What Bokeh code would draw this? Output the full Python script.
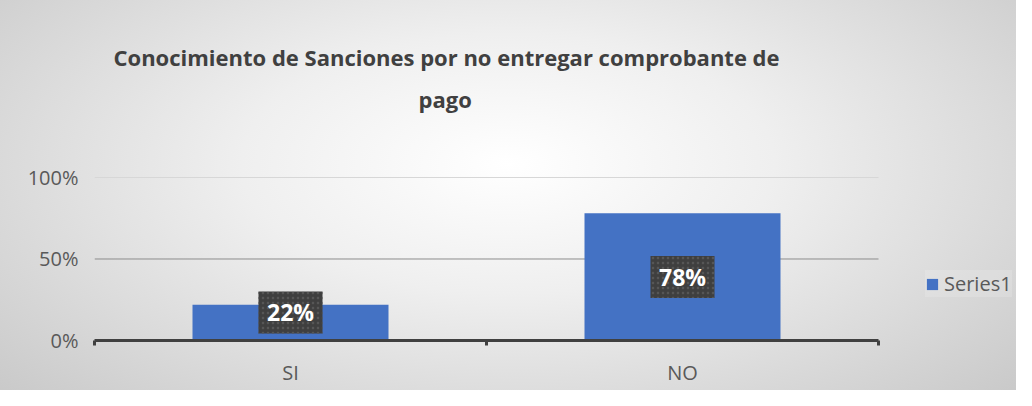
from bokeh.plotting import figure
from bokeh.models import (ColumnDataSource, FixedTicker, Legend, LegendItem,
                          Title, Range1d)
from bokeh.core.properties import value
from bokeh.embed import file_html
from bokeh.resources import INLINE

# ---- data ----
categories = ["SI", "NO"]
values = [0.22, 0.78]
value_labels = ["22%", "78%"]
y_ticks = [0, 0.5, 1.0]
y_tick_labels = ["0%", "50%", "100%"]
series_name = "Series1"
title_lines = ["Conocimiento de Sanciones por no entregar comprobante de", "pago"]

FONT = "Open Sans"
W, H = 1016, 390
BL, BR, BT, BB = 94, 4, 176, 50      # borders around the frame (px)
PLOT_W = 784                          # px taken by the category axis
frame_w = W - BL - BR
n = len(categories)
xs = [i + 0.5 for i in range(n)]
boundaries = list(range(n + 1))
label_y = [max(v / 2, 0.172) for v in values]

p = figure(width=W, height=H, output_backend="svg", toolbar_location=None,
           x_range=Range1d(0, n * frame_w / PLOT_W),
           y_range=Range1d(0, y_ticks[-1] * 1.006),
           min_border_left=BL, min_border_right=BR, min_border_top=BT,
           min_border_bottom=BB,
           border_fill_color=None, background_fill_color=None,
           outline_line_color=None,
           styles={"background": "radial-gradient(ellipse 75% 95% at 50% 42%, #ffffff 0%, #efefef 35%, #c3c3c3 100%)"})

# grid lines limited to the category axis extent
p.xgrid.visible = False
p.ygrid.visible = False
mid = y_ticks[1:-1]
p.segment(x0=[0] * len(mid), x1=[n] * len(mid), y0=mid, y1=mid,
          line_color="#8c8c8c", line_width=1, level="underlay")
p.segment(x0=[0], x1=[n], y0=y_ticks[-1:], y1=y_ticks[-1:],
          line_color="#d6d6d6", line_width=1, level="underlay")

# bars
src = ColumnDataSource(dict(x=xs, top=values, ly=label_y, lab=value_labels))
bars = p.vbar(x="x", top="top", width=0.5, source=src, fill_color="#4472C4",
              line_color=None)

# data labels
p.rect(x="x", y="ly", width=64, height=42, width_units="screen",
       height_units="screen", source=src, fill_color="#3f3f3f", line_color=None,
       hatch_pattern=".", hatch_color="#565656", hatch_scale=5, hatch_weight=1.5)
p.text(x="x", y="ly", text="lab", source=src, text_align="center",
       text_baseline="middle", text_color="white", text_font=value(FONT),
       text_font_style="bold", text_font_size="23px")

# y axis
ya = p.yaxis[0]
ya.ticker = FixedTicker(ticks=y_ticks)
ya.major_label_overrides = {t: l for t, l in zip(y_ticks, y_tick_labels)}
ya.axis_line_color = None
ya.major_tick_line_color = None
ya.major_tick_out = 0
ya.major_tick_in = 0
ya.minor_tick_line_color = None
ya.major_label_standoff = 16
ya.major_label_text_font = FONT
ya.major_label_text_font_size = "20px"
ya.major_label_text_color = "#595959"

# x axis
xa = p.xaxis[0]
xa.bounds = (0, n)
xa.ticker = FixedTicker(ticks=xs, minor_ticks=boundaries)
xa.major_label_overrides = {x: c for x, c in zip(xs, categories)}
xa.axis_line_color = "#404040"
xa.axis_line_width = 3
xa.major_tick_out = 0
xa.major_tick_in = 0
xa.major_tick_line_color = None
xa.minor_tick_out = 5
xa.minor_tick_in = 0
xa.minor_tick_line_color = "#404040"
xa.minor_tick_line_width = 3
xa.major_label_standoff = 13
xa.major_label_text_font = FONT
xa.major_label_text_font_size = "20px"
xa.major_label_text_color = "#595959"

# title: spacer next to the plot, then the two lines (later = further up)
p.add_layout(Title(text=" ", text_font_size="1px", standoff=54), "above")
for txt, off in zip(reversed(title_lines), [324, 19]):
    p.add_layout(Title(text=txt, align="left", offset=off, vertical_align="middle",
                       standoff=10, text_font=FONT, text_font_style="bold",
                       text_font_size="22px", text_color="#404040"), "above")

# legend (inside the widened frame, right of the category axis)
legend = Legend(items=[LegendItem(label=series_name, renderers=[bars])],
                location=(831, 43), orientation="vertical",
                label_text_font=FONT, label_text_font_size="20px",
                label_text_color="#595959", glyph_width=14, glyph_height=14,
                label_standoff=5, padding=9, margin=0, border_line_color=None,
                background_fill_color="white", background_fill_alpha=0.15)
p.add_layout(legend, "center")

open("out.html", "w").write(file_html(p, INLINE))
